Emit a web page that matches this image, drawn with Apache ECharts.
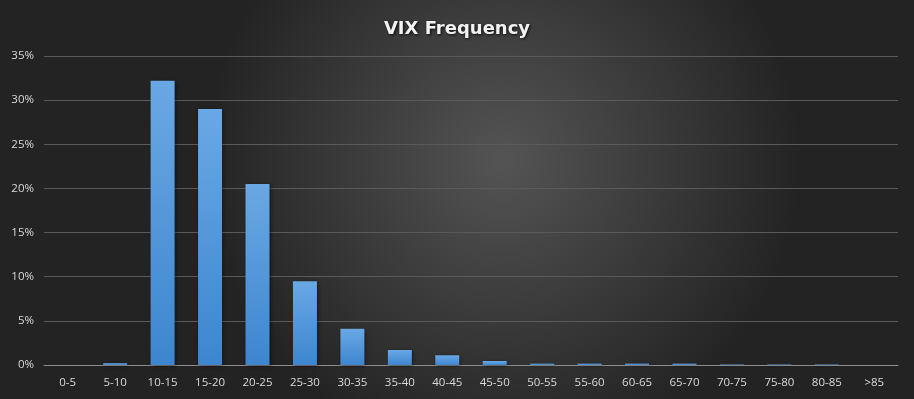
<!DOCTYPE html>
<html>
<head>
<meta charset="utf-8">
<script src="https://cdn.jsdelivr.net/npm/echarts@6/dist/echarts.min.js"></script>
<style>
  html, body { margin: 0; padding: 0; background: #2a2a2a; }
  #chart { width: 914px; height: 399px; }
</style>
</head>
<body>
<div id="chart"></div>
<script>
  // VIX ranges
  const categories = ['0-5', '5-10', '10-15', '15-20', '20-25', '25-30', '30-35', '35-40', '40-45',
    '45-50', '50-55', '55-60', '60-65', '65-70', '70-75', '75-80', '80-85', '>85']
  // share of days, percent
  const frequency = [0, 0.2, 32.2, 29.0, 20.5, 9.5, 4.1, 1.7, 1.1, 0.45, 0.15, 0.15, 0.15, 0.15, 0.05, 0.05, 0.05, 0]

  const chart = echarts.init(document.getElementById('chart'), null, { renderer: 'canvas' })

  chart.setOption({
    animation: false,
    backgroundColor: {
      type: 'radial', x: 0.55, y: 0.4, r: 0.75,
      colorStops: [
        { offset: 0, color: '#545454' },
        { offset: 1, color: '#232323' }
      ]
    },
    title: {
      text: 'VIX Frequency',
      left: 'center',
      top: 15,
      textStyle: {
        color: '#f2f2f2',
        fontFamily: 'DejaVu Sans',
        fontWeight: 'bold',
        fontSize: 18,
        textShadowColor: 'rgba(0,0,0,0.8)',
        textShadowBlur: 3,
        textShadowOffsetX: 1,
        textShadowOffsetY: 1
      }
    },
    grid: { left: 44, right: 16, top: 56, bottom: 34 },
    xAxis: {
      type: 'category',
      data: categories,
      axisLine: { lineStyle: { color: '#8c8c8c', width: 1 } },
      axisTick: { show: false },
      axisLabel: { color: '#d9d9d9', fontFamily: 'Open Sans', fontSize: 11.5, margin: 12, interval: 0 }
    },
    yAxis: {
      type: 'value',
      min: 0,
      max: 35,
      interval: 5,
      axisLine: { show: false },
      axisTick: { show: false },
      axisLabel: {
        color: '#d9d9d9', fontFamily: 'Open Sans', fontSize: 11.5, margin: 10,
        formatter: v => v + '%'
      },
      splitLine: { lineStyle: { color: '#5a5a5a', width: 1 } }
    },
    series: [{
      type: 'bar',
      data: frequency,
      barWidth: 24,
      itemStyle: {
        color: {
          type: 'linear', x: 0, y: 0, x2: 0, y2: 1,
          colorStops: [
            { offset: 0, color: '#6aa8e4' },
            { offset: 1, color: '#3d86cf' }
          ]
        },
        shadowColor: 'rgba(0,0,0,0.5)',
        shadowBlur: 4,
        shadowOffsetX: 1,
        shadowOffsetY: 1
      }
    }]
  })
</script>
</body>
</html>
